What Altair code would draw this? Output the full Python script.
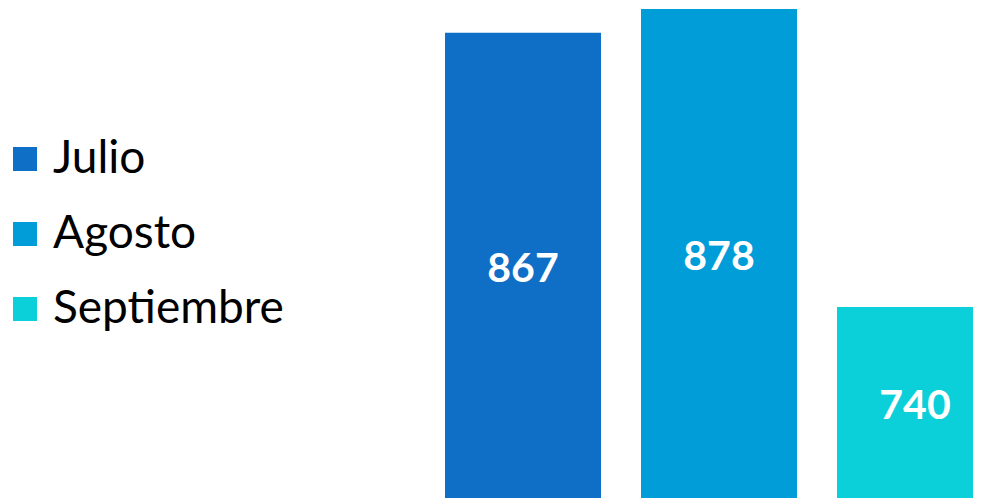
import altair as alt
import pandas as pd

months = ["Julio", "Agosto", "Septiembre"]
values = [867, 878, 740]
colors = ["#0F6FC6", "#009DD9", "#0BD0D9"]

axis_min = 651.5
axis_max = 878.46
label_base = 647

df = pd.DataFrame({"mes": months, "valor": values})

base = alt.Chart(df).encode(
    x=alt.X("mes:N", sort=months,
            scale=alt.Scale(range=[437, 985], paddingInner=0.204, paddingOuter=0),
            axis=None)
)

bars = base.mark_bar(clip=True).encode(
    y=alt.Y("valor:Q", scale=alt.Scale(domain=[axis_min, axis_max], zero=False, nice=False), axis=None),
    color=alt.Color("mes:N", sort=months,
                    scale=alt.Scale(domain=months, range=colors),
                    legend=alt.Legend(orient="none", legendX=-6, legendY=128, title=None,
                                      symbolType="square", symbolSize=576, symbolStrokeWidth=0,
                                      symbolOpacity=1,
                                      labelFont="Lato", labelFontSize=46, labelColor="black",
                                      labelOffset=5, labelLimit=500, rowPadding=29, padding=0)),
)

labels = base.transform_calculate(
    mid=f"(datum.valor + {label_base}) / 2"
).mark_text(font="Lato", fontWeight="bold", fontSize=41, color="white", baseline="middle").encode(
    y=alt.Y("mid:Q"),
    text=alt.Text("valor:Q"),
)

chart = alt.layer(bars, labels).properties(
    width=965, height=490, padding=0, autosize=alt.AutoSizeParams(type="none")
).configure_view(stroke=None)

chart.save("out.html", embed_options={"renderer": "svg", "actions": False})
